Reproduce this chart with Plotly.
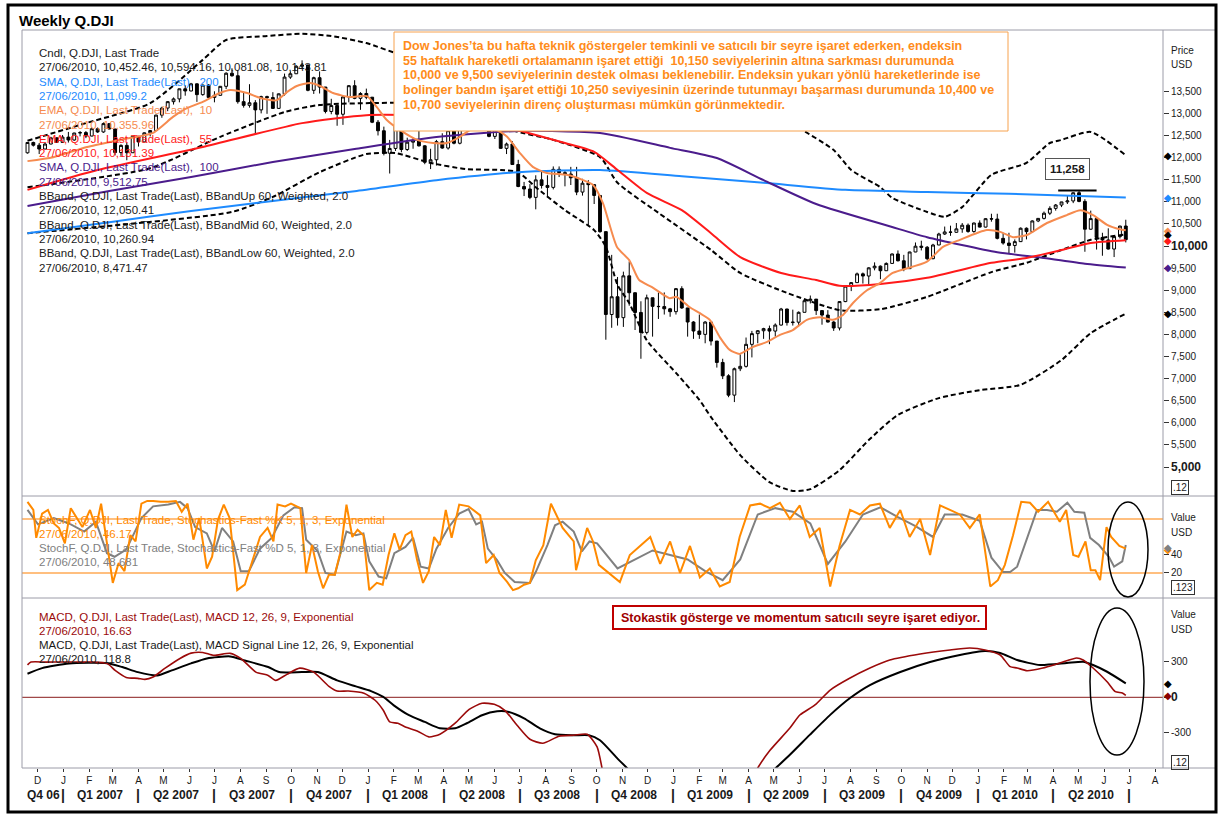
import pandas as pd
import plotly.graph_objects as go

FONT = "Liberation Sans, Arial, sans-serif"
W, H = 1219, 821
L, R, T, B = 22, 1163, 30, 768


def px(x):
    return (x - L) / (R - L)


def py(y):
    return (B - y) / (B - T)


# ---------------- weekly candles (week ending dates) ----------------
start_date = "2006-11-19"
opens = [12108, 12342, 12280, 12194, 12307, 12446, 12343, 12463, 12398, 12556,
         12565, 12487, 12653, 12580, 12768, 12647, 12114, 12276, 12110, 12481,
         12354, 12560, 12612, 12961, 13120, 13265, 13327, 13556, 13507, 13668,
         13424, 13640, 13361, 13409, 13612, 13908, 13851, 13265, 13182, 13240,
         13079, 13379, 13358, 13113, 13442, 13821, 13896, 14066, 14093, 13522,
         13807, 13595, 13043, 13177, 12980, 13372, 13626, 13340, 13450, 13366,
         12800, 12607, 12099, 12207, 12743, 12183, 12349, 12381, 12266, 11894,
         11951, 12361, 12216, 12609, 12325, 12849, 12891, 13058, 12745, 12986,
         12480, 12638, 12209, 12307, 11843, 11346, 11289, 11100, 11496, 11370,
         11326, 11734, 11659, 11628, 11543, 11220, 11421, 11388, 11143, 10325,
         8451, 8852, 8379, 9325, 8943, 8497, 8046, 8829, 8635, 8630,
         8579, 8515, 9035, 8599, 8281, 8077, 8001, 8280, 7850, 7366,
         7063, 6627, 7224, 7278, 7776, 8018, 8083, 8131, 8076, 8212,
         8575, 8268, 8277, 8500, 8763, 8799, 8539, 8438, 8280, 8146,
         8743, 9093, 9172, 9370, 9321, 9506, 9544, 9441, 9606, 9820,
         9666, 9488, 9865, 9996, 9972, 9713, 10023, 10271, 10318, 10310,
         10388, 10471, 10329, 10520, 10428, 10618, 10610, 10173, 10067, 10012,
         10099, 10402, 10325, 10567, 10625, 10742, 10851, 10927, 10997, 11019,
         11205, 11009, 10380, 10620, 10193, 10137, 9932, 10212, 10452.46]
highs = [12350, 12360, 12330, 12340, 12470, 12460, 12510, 12580, 12560, 12600,
         12600, 12680, 12680, 12795, 12780, 12650, 12300, 12330, 12490, 12490,
         12570, 12620, 12970, 13150, 13280, 13360, 13560, 13630, 13690, 13680,
         13650, 13660, 13500, 13620, 13930, 14020, 13980, 13470, 13660, 13300,
         13400, 13400, 13480, 13450, 13900, 13950, 14090, 14200, 14100, 13830,
         13950, 13600, 13330, 13200, 13400, 13640, 13750, 13480, 13560, 13370,
         12850, 12700, 12400, 12770, 12750, 12450, 12450, 12750, 12280, 12200,
         12400, 12550, 12660, 12630, 12870, 12900, 13100, 13070, 13030, 13000,
         12700, 12650, 12340, 12370, 11950, 11450, 11400, 11600, 11700, 11600,
         11800, 11800, 11700, 11790, 11790, 11520, 11490, 11400, 11150, 10330,
         9800, 9300, 9420, 9650, 8950, 8750, 8900, 8830, 8950, 8950,
         8600, 9050, 9090, 8600, 8300, 8450, 8300, 8300, 7850, 7450,
         7100, 7250, 7550, 7930, 8080, 8100, 8150, 8200, 8250, 8600,
         8580, 8560, 8520, 8800, 8880, 8800, 8550, 8550, 8300, 8750,
         9100, 9180, 9400, 9400, 9520, 9630, 9560, 9630, 9830, 9900,
         9800, 9870, 10080, 10120, 10000, 10050, 10300, 10440, 10460, 10520,
         10520, 10510, 10530, 10580, 10630, 10730, 10730, 10300, 10300, 10150,
         10420, 10420, 10580, 10630, 10780, 10900, 10950, 11000, 11150, 11210,
         11258, 11060, 10800, 10650, 10300, 10400, 10220, 10460, 10594.16]
lows = [12090, 12250, 12080, 12190, 12300, 12340, 12340, 12340, 12380, 12480,
        12440, 12480, 12560, 12560, 12640, 12050, 12040, 11940, 12110, 12250,
        12350, 12480, 12600, 12900, 13050, 13200, 13250, 13400, 13500, 13260,
        13400, 13350, 13250, 13400, 13550, 13830, 13220, 13130, 13130, 12520,
        13000, 12990, 13100, 13120, 13400, 13780, 13890, 14000, 13500, 13440,
        13450, 13000, 12980, 12720, 12740, 13250, 13320, 13080, 13320, 12780,
        12500, 12050, 11640, 12150, 12120, 12150, 12200, 12250, 11850, 11740,
        11820, 12200, 12180, 12300, 12300, 12700, 12780, 12700, 12690, 12460,
        12420, 12200, 12080, 11840, 11330, 11130, 11060, 10830, 11300, 11100,
        11280, 11560, 11350, 11380, 11150, 11140, 10450, 10950, 10300, 7880,
        8150, 8200, 8170, 8650, 8100, 7450, 8000, 7950, 8350, 8450,
        8400, 8450, 8580, 7950, 7900, 7900, 7800, 7750, 7250, 6990,
        6580, 6470, 7170, 7250, 7480, 7800, 7900, 7780, 7950, 8200,
        8200, 8200, 8200, 8500, 8700, 8440, 8220, 8270, 8080, 8090,
        8730, 8980, 9170, 9150, 9100, 9450, 9250, 9440, 9600, 9650,
        9430, 9480, 9860, 9900, 9680, 9700, 10020, 10250, 10230, 10300,
        10300, 10300, 10300, 10420, 10420, 10550, 10150, 10030, 9830, 9850,
        10090, 10150, 10300, 10540, 10600, 10700, 10800, 10880, 10950, 10970,
        10990, 9870, 10370, 9920, 9780, 9920, 9750, 10170, 10081.08]
closes = [12342, 12280, 12194, 12307, 12446, 12343, 12463, 12398, 12556, 12565,
          12487, 12653, 12580, 12768, 12647, 12114, 12276, 12110, 12481, 12354,
          12560, 12612, 12961, 13120, 13265, 13327, 13556, 13507, 13668, 13424,
          13640, 13361, 13409, 13612, 13908, 13851, 13265, 13182, 13240, 13079,
          13379, 13358, 13113, 13442, 13821, 13896, 14066, 14093, 13522, 13807,
          13595, 13043, 13177, 12980, 13372, 13626, 13340, 13450, 13366, 12800,
          12607, 12099, 12207, 12743, 12183, 12349, 12381, 12266, 11894, 11951,
          12361, 12216, 12609, 12325, 12849, 12891, 13058, 12745, 12986, 12480,
          12638, 12209, 12307, 11843, 11346, 11289, 11100, 11496, 11370, 11326,
          11734, 11659, 11628, 11543, 11220, 11421, 11388, 11143, 10325, 8451,
          8852, 8379, 9325, 8943, 8497, 8046, 8829, 8635, 8630, 8579,
          8515, 9035, 8599, 8281, 8077, 8001, 8280, 7850, 7366, 7063,
          6627, 7224, 7278, 7776, 8018, 8083, 8131, 8076, 8212, 8575,
          8268, 8277, 8500, 8763, 8799, 8539, 8438, 8280, 8146, 8743,
          9093, 9172, 9370, 9321, 9506, 9544, 9441, 9606, 9820, 9666,
          9488, 9865, 9996, 9972, 9713, 10023, 10271, 10318, 10310, 10388,
          10471, 10329, 10520, 10428, 10618, 10610, 10173, 10067, 10012, 10099,
          10402, 10325, 10567, 10625, 10742, 10851, 10927, 10997, 11019, 11205,
          11009, 10380, 10620, 10193, 10137, 9932, 10212, 10450, 10143.81]

# ---------------- indicator lines (week index, value) ----------------
sma200_w = [0, 14, 28, 42, 56, 70, 84, 98, 112, 126, 140, 154, 168, 188]
sma200_v = [10290, 10540, 10790, 11020, 11240, 11490, 11670, 11720, 11580, 11430, 11270, 11220, 11180, 11099.2]

sma100_w = [0, 14, 28, 42, 56, 70, 84, 98, 110, 118, 126, 135, 148, 154, 166, 174, 181, 188]
sma100_v = [10905, 11244, 11561, 11900, 12194, 12466, 12601, 12556, 12220, 11990, 11490, 10950, 10430, 10200, 9860, 9730, 9600, 9512.75]

ema55_w = [0, 12, 30, 47, 58, 67, 76, 84, 92, 97, 101, 106, 112, 117, 122, 129, 135, 139, 146, 154, 165, 171, 177, 182, 188]
ema55_v = [11270, 11720, 12240, 12780, 12960, 12960, 12920, 12620, 12330, 12130, 11720, 11200, 10810, 10290, 9750, 9390, 9230, 9100, 9140, 9280, 9620, 9730, 9910, 10070, 10131.39]

ema10_w = [0, 4.4, 10.2, 15.8, 21.5, 24.9, 27.3, 30.0, 32.9, 34.7, 37.6, 39.8, 42.7, 44.4, 46.1, 48.4, 50.1, 52.3,
           55.2, 58.1, 59.8, 61.5, 63.8, 66.7, 69.4, 71.8, 74.0, 76.3, 78.3, 80.4, 82.1, 84.3, 86.5, 88.9, 92.3,
           95.1, 96.8, 98.5, 100.9, 103.0, 104.7, 106.9, 109.9, 111.1, 113.3, 115.1, 116.8, 118.5, 120.2, 121.9,
           124.2, 126.6, 128.8, 131.0, 133.4, 135.6, 137.9, 139.6, 141.3, 143.7, 145.9, 148.1, 153.9, 156.7, 159.6,
           164.2, 166.5, 168.7, 171.1, 174.5, 177.9, 180.2, 182.4, 184.8, 187.0, 188]
ema10_v = [11920, 12010, 12240, 12400, 12560, 12920, 13120, 13260, 13460, 13530, 13460, 13350, 13300, 13480, 13620, 13690, 13620, 13460,
           13370, 13390, 13140, 12850, 12620, 12400, 12330, 12330, 12470, 12670, 12740, 12620, 12470, 12100, 11790, 11650, 11610,
           11490, 11380, 10970, 9980, 9680, 9230, 9070, 8820, 8850, 8620, 8480, 8330, 7940, 7650, 7560,
           7720, 7830, 7990, 8100, 8330, 8390, 8330, 8440, 8710, 9000, 9160, 9390, 9640, 9980, 10140,
           10360, 10320, 10200, 10250, 10520, 10700, 10810, 10700, 10480, 10380, 10355.96]

bbup_w = [0, 10, 21, 30, 34, 41, 47, 52, 58, 64, 72, 80, 88, 96, 104, 112, 118, 124, 132, 138, 141, 146, 148, 154, 157,
          160, 165, 171, 175, 177, 182, 188]
bbup_v = [12380, 12780, 13230, 14210, 14660, 14750, 14800, 14750, 14590, 14320, 14050, 13800, 13600, 13500, 13600, 13700,
          13500, 13190, 12670, 12170, 11720, 11330, 11090, 10770, 10660, 10880, 11610, 11880, 12330, 12400, 12580, 12050.41]

bbmid_w = [0, 21, 33, 44, 50, 67, 76, 83, 90, 98, 101, 108, 117, 122, 130, 139, 146, 154, 165, 171, 177, 182, 188]
bbmid_v = [11330, 11760, 12470, 13030, 13190, 13230, 13050, 12620, 12400, 12010, 11430, 10750, 9910, 9390, 8940, 8550,
           8570, 8850, 9410, 9620, 9910, 10140, 10260.94]

bblow_w = [0, 16, 35, 42, 50, 58, 63, 69, 75, 81, 84, 87, 92, 97, 99, 101, 103, 106, 111, 115, 117, 122, 127, 131, 134,
           139, 144, 149, 156, 163, 170, 177, 182, 188]
bblow_v = [10290, 10480, 10770, 11110, 11670, 12080, 12100, 11880, 11740, 11720, 11670, 11330, 10810, 10360, 9980, 9120,
           8710, 7870, 7130, 6520, 6130, 5270, 4660, 4460, 4500, 4930, 5610, 6180, 6560, 6740, 6860, 7420, 8030, 8471.47]

# ---------------- stochastics (week index, value) ----------------
stk_w = [0, 1, 1.5, 2.5, 3.5, 4.5, 5.4, 6.4, 7.4, 8.4, 9.4, 10.7, 11.7, 12.6, 13.6, 14.6, 15.6, 16.6, 17.6, 18.5,
         19.5, 20.5, 21.5, 22.8, 24.1, 25.4, 26.4, 27.4, 28.4, 29.4, 30.7, 31.6, 32.6, 33.6, 34.6, 35.9, 37.2, 38.5,
         39.8, 41.1, 42.1, 42.8, 44.1, 45.1, 46.7, 47.7, 48.7, 49.7, 50.6, 51.6, 52.6, 53.6, 54.6, 55.6, 56.5, 57.5,
         58.5, 59.8, 60.8, 61.8, 62.8, 63.7, 64.7, 65.7, 66.7, 67.7, 68.7, 69.6, 70.6, 71.6, 72.6, 73.9, 75.5, 77.5,
         78.5, 79.8, 80.8, 82.1, 83.1, 84.0, 85.0, 86.0, 87.0, 88.3, 89.6, 91.6, 93.5, 93.9, 95.8, 96.8, 97.8,
         101.4, 103.1, 106.6, 108.3, 110, 111.7, 113.4, 115.1, 116.8, 118.5, 120.2, 121.9, 123.7, 125.4, 127.1,
         128.8, 130.5, 132.2, 133.9, 135.6, 137.4, 139, 140.8, 142.5, 144.2, 145.9, 147.6, 149.4, 151, 152.8, 154.5,
         156.2, 157.9, 159.6, 161.3, 163, 164.8, 166.1, 167.3, 168.7, 170.1, 171.6, 173.0, 174.7, 176.7, 177.8,
         179.0, 179.9, 181.1, 182.0, 182.8, 183.6, 184.7, 185.5, 186.9, 188]
stk_v = [99, 90, 59, 86, 90, 75, 70, 53, 92, 81, 71, 90, 70, 97, 53, 9, 31, 22, 62, 55,
         97, 100, 100, 99, 99, 100, 88, 97, 57, 81, 25, 38, 79, 96, 81, 1, 7, 33,
         60, 70, 55, 96, 94, 97, 92, 20, 51, 22, 3, 18, 18, 44, 96, 60, 68, 62,
         1, 9, 7, 40, 64, 46, 62, 66, 34, 9, 22, 60, 51, 90, 59, 96, 94, 84,
         31, 40, 20, 10, 1, 3, 7, 9, 34, 51, 97, 70, 55, 23, 70, 55, 29,
         10, 40, 60, 30, 55, 20, 50, 15, 25, 5, 10, 60, 95, 97, 92,
         98, 80, 95, 60, 70, 5, 50, 90, 85, 95, 97, 70, 90, 60, 80, 40,
         95, 90, 85, 70, 85, 5, 12, 29, 62, 99, 98, 88, 99, 77, 90,
         40, 38, 55, 23, 23, 12, 71, 60, 50, 47, 46.17]
std_w = [0, 1.8, 4.5, 7.1, 9.7, 11.7, 13.6, 14.9, 16.9, 19.5, 21.5, 24.1, 26.1, 27.4, 28.7, 30.7, 32, 33.3, 35.2,
         36.5, 37.9, 39.8, 41.8, 43.8, 45.7, 47, 47.7, 49.7, 51, 52.6, 54.6, 56.2, 57.5, 58.5, 60.1, 61.4, 62.8,
         64.7, 66, 67.3, 68.7, 70, 72, 73.9, 75.5, 76.8, 77.8, 78.8, 80.4, 81.7, 83.4, 85, 86, 87, 89, 90.3, 91.6,
         93.5, 94.9, 96.2, 97.5, 101, 104, 107, 110, 113, 116, 119, 122, 125, 128, 131, 134, 137, 140, 143, 146,
         149, 152, 155, 157, 160, 163, 165, 167, 168.2, 169.4, 171.1, 172.8, 174.5, 176.2, 178, 179.2, 180.9,
         181.9, 183.4, 185.1, 186.0, 187.4, 188]
std_v = [90, 74, 81, 75, 66, 77, 42, 38, 46, 81, 94, 96, 99, 92, 71, 64, 44, 70, 55,
         22, 22, 47, 59, 84, 93, 92, 57, 44, 20, 18, 66, 62, 64, 33, 16, 14, 42,
         49, 59, 27, 25, 47, 70, 86, 91, 74, 77, 47, 34, 20, 10, 9, 9, 21, 51, 73, 77,
         66, 44, 55, 53, 25, 35, 45, 40, 35, 22, 12, 35, 85, 92, 88, 75, 30, 55, 85, 93,
         82, 72, 60, 85, 85, 78, 37, 21, 21, 27, 59, 90, 90, 88, 98, 88, 87,
         59, 51, 38, 27, 33, 51, 48.681]

# ---------------- MACD (week index, value) ----------------
macd_w = [0, 0.6, 3.2, 10.4, 13.6, 15, 16.9, 18.9, 20.1, 21.5, 23.5, 26.1, 28, 30, 31.9, 34.7, 36.5, 39.1, 41.2,
          42.5, 44.4, 46.6, 49, 51.6, 53, 54.9, 57.6, 59.5, 60.9, 62, 63.4, 64.8, 66.7, 68.7, 70.6, 73.2, 75.6,
          77.8, 79.9, 81.7, 83.8, 86, 88.2, 91, 93.5, 95.8, 97.5, 99, 102, 112, 120, 123, 125, 127.1, 130.5,
          132.2, 134.8, 137.4, 140.8, 144.2, 147.6, 152.8, 157.9, 161.3, 163.9, 166.5, 168.2, 169.4, 171.1,
          173.8, 176.7, 179.6, 180.7, 182.4, 184.8, 186.2, 187.4, 188]
macd_v = [275, 299, 299, 299, 288, 229, 169, 161, 152, 172, 245, 330, 375, 381, 356, 373, 330, 214, 186,
          144, 195, 248, 214, 93, 53, 53, 34, -25, -110, -209, -220, -254, -285, -336, -313, -220, -102,
          -51, -59, -110, -237, -356, -390, -330, -322, -313, -421, -750, -1100, -1150, -1000, -800, -600, -450, -261,
          -150, -65, 62, 164, 249, 317, 368, 402, 418, 402, 359, 260, 249, 226,
          249, 291, 334, 317, 249, 132, 48, 37, 16.63]
sig_w = [0, 2.5, 7.1, 13.6, 16.2, 18.9, 22.2, 24.7, 28, 30.7, 34.7, 37.2, 41.2, 43.1, 47, 49.7, 53, 56.2, 58.8,
         60.9, 62.7, 65.3, 68, 70.6, 73.2, 75.2, 77.8, 80.4, 82.4, 85, 87.7, 90.3, 93.5, 96.1, 98, 101, 103, 106,
         115, 122, 126, 128.1, 130.5, 133.9, 137.4, 140.8, 144.2, 149.4, 154.5, 159.6, 163.9, 166.5, 169.4, 173.3,
         177.9, 180.7, 182.4, 184.8, 188]
sig_v = [200, 248, 288, 290, 257, 214, 186, 229, 288, 330, 347, 313, 257, 214, 214, 214, 144, 93, 53,
         3, -68, -152, -209, -263, -263, -220, -152, -119, -124, -178, -263, -313, -322, -322, -364, -520, -620, -800,
         -1000, -900, -700, -600, -488, -319, -149, -6, 104, 215, 300, 359, 393, 376, 317, 274,
         291, 302, 274, 217, 118.8]

# ---------------- labels ----------------
month_letters = ["J", "F", "M", "A", "M", "J", "J", "A", "S", "O", "N", "D"]
quarter_labels = ["Q4 06", "Q1 2007", "Q2 2007", "Q3 2007", "Q4 2007", "Q1 2008", "Q2 2008", "Q3 2008",
                  "Q4 2008", "Q1 2009", "Q2 2009", "Q3 2009", "Q4 2009", "Q1 2010", "Q2 2010"]
price_ticks = [5000, 5500, 6000, 6500, 7000, 7500, 8000, 8500, 9000, 9500, 10000, 10500, 11000, 11500,
               12000, 12500, 13000, 13500]

legend_price = [
    ("Cndl, Q.DJI, Last Trade", "#1a1a1a"),
    ("27/06/2010, 10,452.46, 10,594.16, 10,081.08, 10,143.81", "#1a1a1a"),
    ("SMA, Q.DJI, Last Trade(Last),  200", "#1E8BFF"),
    ("27/06/2010, 11,099.2", "#1E8BFF"),
    ("EMA, Q.DJI, Last Trade(Last),  10", "#F68B4F"),
    ("27/06/2010, 10,355.96", "#F68B4F"),
    ("EMA, Q.DJI, Last Trade(Last),  55", "#FF1A1A"),
    ("27/06/2010, 10,131.39", "#FF1A1A"),
    ("SMA, Q.DJI, Last Trade(Last),  100", "#4B1C8C"),
    ("27/06/2010, 9,512.75", "#4B1C8C"),
    ("BBand, Q.DJI, Last Trade(Last), BBandUp 60, Weighted, 2.0", "#1a1a1a"),
    ("27/06/2010, 12,050.41", "#1a1a1a"),
    ("BBand, Q.DJI, Last Trade(Last), BBandMid 60, Weighted, 2.0", "#1a1a1a"),
    ("27/06/2010, 10,260.94", "#1a1a1a"),
    ("BBand, Q.DJI, Last Trade(Last), BBandLow 60, Weighted, 2.0", "#1a1a1a"),
    ("27/06/2010, 8,471.47", "#1a1a1a"),
]
legend_stoch = [
    ("StochF, Q.DJI, Last Trade, Stochastics-Fast %K 5, 1, 3, Exponential", "#FF8A00"),
    ("27/06/2010, 46.17", "#FF8A00"),
    ("StochF, Q.DJI, Last Trade, Stochastics-Fast %D 5, 1, 3, Exponential", "#808080"),
    ("27/06/2010, 48.681", "#808080"),
]
legend_macd = [
    ("MACD, Q.DJI, Last Trade(Last), MACD 12, 26, 9, Exponential", "#9B0A0A"),
    ("27/06/2010, 16.63", "#9B0A0A"),
    ("MACD, Q.DJI, Last Trade(Last), MACD Signal Line 12, 26, 9, Exponential", "#1a1a1a"),
    ("27/06/2010, 118.8", "#1a1a1a"),
]
comment_lines = [
    "Dow Jones’ta bu hafta teknik göstergeler temkinli ve satıcılı bir seyre işaret ederken, endeksin",
    "55 haftalık hareketli ortalamanın işaret ettiği  10,150 seviyelerinin altına sarkması durumunda",
    "10,000 ve 9,500 seviyelerinin destek olması beklenebilir. Endeksin yukarı yönlü hareketlerinde ise",
    "bolinger bandın işaret ettiği 10,250 seviyesinin üzerinde tutunmayı başarması durumunda 10,400 ve",
    "10,700 seviyelerinin direnç oluşturması mümkün görünmektedir.",
]
comment2 = "Stokastik gösterge ve momentum satıcılı seyre işaret ediyor."
peak_value = 11258

# ---------------- build ----------------
start = pd.Timestamp(start_date)
dates = pd.date_range(start, periods=len(closes), freq="7D")


def at(weeks):
    return [start + pd.Timedelta(days=7 * float(w)) for w in weeks]


fig = go.Figure()
fig.add_trace(go.Candlestick(
    x=dates, open=opens, high=highs, low=lows, close=closes,
    increasing=dict(line=dict(color="black", width=1), fillcolor="white"),
    decreasing=dict(line=dict(color="black", width=1), fillcolor="black"),
    whiskerwidth=0, showlegend=False, xaxis="x", yaxis="y"))


def line(w, v, color, width, dash="solid", yaxis="y", shape="spline"):
    fig.add_trace(go.Scatter(x=at(w), y=v, mode="lines", xaxis="x", yaxis=yaxis,
                             line=dict(color=color, width=width, dash=dash, shape=shape,
                                       smoothing=0.6 if shape == "spline" else None),
                             showlegend=False, hoverinfo="skip"))


line(bbup_w, bbup_v, "black", 2, "5px,3px")
line(bbmid_w, bbmid_v, "black", 2, "5px,3px")
line(bblow_w, bblow_v, "black", 2, "5px,3px")
line(sma200_w, sma200_v, "#1E8BFF", 2)
line(sma100_w, sma100_v, "#4B1C8C", 2)
line(ema55_w, ema55_v, "#FF1A1A", 2)
line(ema10_w, ema10_v, "#F68B4F", 2)

line(std_w, std_v, "#808080", 2, yaxis="y2", shape="linear")
line(stk_w, stk_v, "#FF8A00", 2, yaxis="y2", shape="linear")

line(sig_w, sig_v, "black", 2, yaxis="y3")
line(macd_w, macd_v, "#9B0A0A", 1.6, yaxis="y3")

# month ticks
mstarts = pd.date_range("2006-12-01", "2010-08-01", freq="MS")
mtext = [month_letters[d.month - 1] for d in mstarts]

shapes = []
annotations = []
GRAY = "#9C9CA8"


def hl(y, x0, x1, color=GRAY, width=1):
    shapes.append(dict(type="line", xref="paper", yref="paper", x0=px(x0), x1=px(x1), y0=py(y), y1=py(y),
                       line=dict(color=color, width=width), layer="above"))


def vl(x, y0, y1, color=GRAY, width=1):
    shapes.append(dict(type="line", xref="paper", yref="paper", x0=px(x), x1=px(x), y0=py(y0), y1=py(y1),
                       line=dict(color=color, width=width), layer="above"))


# frames
hl(30, 22, 1216)
hl(496, 22, 1216)
hl(598, 22, 1216)
hl(768, 22, 1216)
vl(22, 30, 768)
vl(1163, 30, 768)
shapes.append(dict(type="rect", xref="paper", yref="paper", x0=px(8), x1=px(1216), y0=py(5), y1=py(812),
                   line=dict(color="black", width=3), layer="above"))

# stoch levels and macd zero
for lv in (20, 80):
    shapes.append(dict(type="line", xref="paper", yref="y2", x0=0, x1=1, y0=lv, y1=lv,
                       line=dict(color="#FFAA55", width=1.5), layer="below"))
shapes.append(dict(type="line", xref="paper", yref="y3", x0=0, x1=1, y0=0, y1=0,
                   line=dict(color="#A04848", width=1.2), layer="below"))

# comment box
shapes.append(dict(type="rect", xref="paper", yref="paper", x0=px(394), x1=px(1008), y0=py(32), y1=py(131),
                   line=dict(color="#F7A24E", width=1), fillcolor="white", layer="above"))
for k, t in enumerate(comment_lines):
    annotations.append(dict(text="<b>" + t + "</b>", xref="paper", yref="paper", x=px(401), y=py(46 + k * 14.7),
                            xanchor="left", yanchor="middle", showarrow=False,
                            font=dict(family=FONT, size=12.5, color="#FF8C1A")))

# red comment box
shapes.append(dict(type="rect", xref="paper", yref="paper", x0=px(613), x1=px(986), y0=py(606), y1=py(629),
                   line=dict(color="#C00000", width=2), fillcolor="white", layer="above"))
annotations.append(dict(text="<b>" + comment2 + "</b>", xref="paper", yref="paper", x=px(800), y=py(617.5),
                        xanchor="center", yanchor="middle", showarrow=False,
                        font=dict(family=FONT, size=12.5, color="#A00000")))

# peak box and line
annotations.append(dict(text="<b>11,258</b>", xref="paper", yref="paper", x=px(1067), y=py(168.5),
                        xanchor="center", yanchor="middle", showarrow=False, bgcolor="white",
                        bordercolor="#555", borderwidth=1, borderpad=4,
                        font=dict(family=FONT, size=11.5, color="#1a1a1a")))
shapes.append(dict(type="line", xref="x", yref="y", x0=dates[176] + pd.Timedelta(days=3), x1=dates[183],
                   y0=peak_value, y1=peak_value, line=dict(color="black", width=2), layer="above"))

# ellipses
shapes.append(dict(type="circle", xref="paper", yref="paper", x0=px(1108), x1=px(1148), y0=py(502), y1=py(597),
                   line=dict(color="black", width=1.5), layer="above"))
shapes.append(dict(type="circle", xref="paper", yref="paper", x0=px(1090), x1=px(1144), y0=py(608), y1=py(755),
                   line=dict(color="black", width=1.5), layer="above"))

# title
annotations.append(dict(text="<b>Weekly Q.DJI</b>", xref="paper", yref="paper", x=px(17), y=py(20),
                        xanchor="left", yanchor="middle", showarrow=False,
                        font=dict(family=FONT, size=15, color="black")))


def legend(lines, y0, step=14.3):
    for k, (t, c) in enumerate(lines):
        annotations.append(dict(text=t, xref="paper", yref="paper", x=px(37), y=py(y0 + k * step),
                                xanchor="left", yanchor="middle", showarrow=False,
                                font=dict(family=FONT, size=11.5, color=c)))


legend(legend_price, 53)
legend(legend_stoch, 520, 14)
legend(legend_macd, 617, 14)

# right axis headers
for txt, yy in (("Price", 50), ("USD", 65), ("Value", 517), ("USD", 532), ("Value", 614), ("USD", 629)):
    annotations.append(dict(text=txt, xref="paper", yref="paper", x=px(1169), y=py(yy), xanchor="left",
                            yanchor="middle", showarrow=False, font=dict(family=FONT, size=10, color="#1a1a1a")))
for txt, yy in (("&#46;12", 488), ("&#46;123", 587), ("&#46;12", 762)):
    annotations.append(dict(text=txt, xref="paper", yref="paper", x=px(1171), y=py(yy), xanchor="left",
                            yanchor="middle", showarrow=False, bordercolor="#333", borderwidth=1, borderpad=1,
                            font=dict(family=FONT, size=10, color="#1a1a1a")))

# last value diamonds
for val, col, ax in ((bbup_v[-1], "black", "y"), (sma200_v[-1], "#1E8BFF", "y"), (ema10_v[-1], "#F68B4F", "y"),
                     (bbmid_v[-1], "black", "y"), (ema55_v[-1], "#FF1A1A", "y"), (sma100_v[-1], "#4B1C8C", "y"),
                     (bblow_v[-1], "black", "y"), (stk_v[-1], "#FF8A00", "y2"), (std_v[-1], "#808080", "y2"),
                     (sig_v[-1], "black", "y3"), (macd_v[-1], "#8B0000", "y3")):
    annotations.append(dict(text="◆", xref="paper", yref=ax, x=px(1168), y=val, xanchor="center",
                            yanchor="middle", showarrow=False,
                            font=dict(family="DejaVu Sans", size=10, color=col)))

# quarter labels and separators
q_centers = ["2006-12-08", "2007-02-14", "2007-05-16", "2007-08-15", "2007-11-15", "2008-02-14", "2008-05-16",
             "2008-08-15", "2008-11-15", "2009-02-14", "2009-05-16", "2009-08-15", "2009-11-15", "2010-02-14",
             "2010-05-16"]
for lab, c in zip(quarter_labels, q_centers):
    annotations.append(dict(text="<b>" + lab + "</b>", xref="x", yref="paper", x=c, y=py(795),
                            xanchor="center", yanchor="middle", showarrow=False,
                            font=dict(family=FONT, size=12, color="#1a1a1a")))
for q in pd.date_range("2007-01-01", "2010-07-01", freq="QS"):
    annotations.append(dict(text="<b>|</b>", xref="x", yref="paper", x=q, y=py(795),
                            xanchor="center", yanchor="middle", showarrow=False,
                            font=dict(family=FONT, size=14, color="#1a1a1a")))

price_text = []
for v in price_ticks:
    s = f"{v:,}"
    if v in (5000, 10000):
        s = "<b><span style='font-size:12px'>" + s + "</span></b>"
    price_text.append(s)

axis_common = dict(showgrid=False, zeroline=False, showline=False, ticks="outside", ticklen=5,
                   tickcolor="#333", tickfont=dict(family=FONT, size=10, color="#1a1a1a"))

fig.update_layout(
    width=W, height=H, autosize=False,
    margin=dict(l=L, r=W - R, t=T, b=H - B, pad=0),
    paper_bgcolor="white", plot_bgcolor="white",
    showlegend=False,
    xaxis=dict(domain=[0, 1], anchor="y3", type="date",
               range=["2006-11-12 10:00", "2010-08-10 14:00"],
               tickvals=list(mstarts), ticktext=mtext, ticks="outside", ticklen=3, tickcolor="#333",
               tickfont=dict(family=FONT, size=10, color="#1a1a1a"),
               showgrid=False, zeroline=False, showline=False, rangeslider=dict(visible=False)),
    yaxis=dict(domain=[py(495), 1], anchor="x", side="right", range=[4368, 14886],
               tickvals=price_ticks, ticktext=price_text, **axis_common),
    yaxis2=dict(domain=[py(598), py(497)], anchor="x", side="right", range=[-7.8, 104.4],
                tickvals=[20, 40], ticktext=["20", "40"], **axis_common),
    yaxis3=dict(domain=[0, py(598)], anchor="x", side="right", range=[-600, 843],
                tickvals=[-300, 0, 300], ticktext=["-300", "<b><span style='font-size:12px'>0</span></b>", "300"],
                **axis_common),
    shapes=shapes, annotations=annotations,
)

fig.write_html("out.html", config={"displayModeBar": False},
               post_script="document.body.style.margin='0';document.body.style.overflow='hidden';")
